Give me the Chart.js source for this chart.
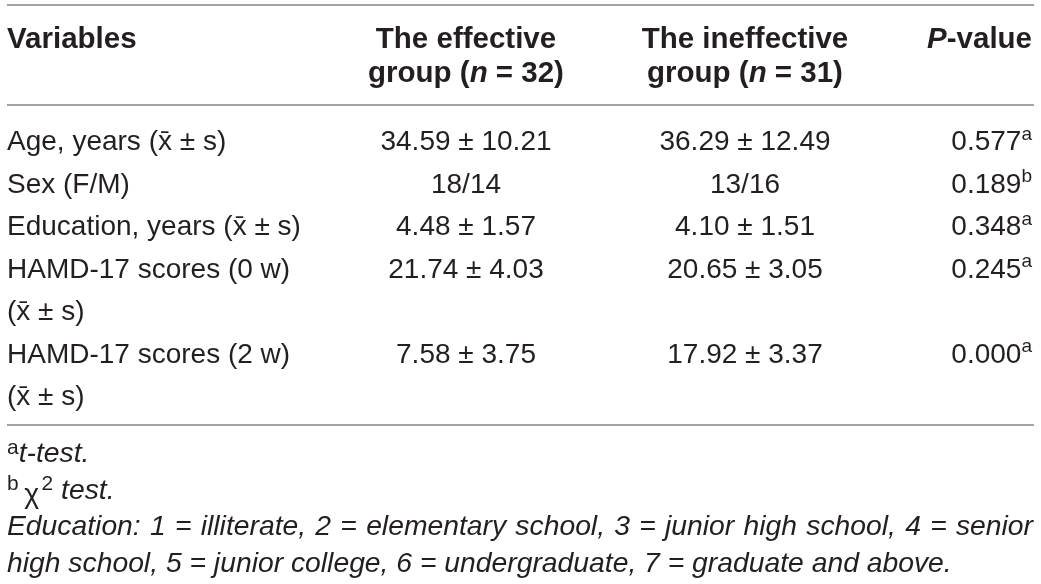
<!DOCTYPE html>
<html>
<head>
<meta charset="utf-8">
<script src="https://cdn.jsdelivr.net/npm/chart.js@4"></script>
<style>
  html, body { margin: 0; padding: 0; background: #fff; }
  #wrap { width: 1041px; height: 584px; }
</style>
</head>
<body>
<div id="wrap"><canvas id="table-chart" width="1041" height="584"></canvas></div>
<script>
// Data tabulky
const headers = ['Variables', 'The effective\ngroup (*n* = 32)', 'The ineffective\ngroup (*n* = 31)', '*P*-value'];
const variables = ['Age, years (x\u0304 ± s)', 'Sex (F/M)', 'Education, years (x\u0304 ± s)',
    'HAMD-17 scores (0 w)\n(x\u0304 ± s)', 'HAMD-17 scores (2 w)\n(x\u0304 ± s)'];
const effective = ['34.59 ± 10.21', '18/14', '4.48 ± 1.57', '21.74 ± 4.03', '7.58 ± 3.75'];
const ineffective = ['36.29 ± 12.49', '13/16', '4.10 ± 1.51', '20.65 ± 3.05', '17.92 ± 3.37'];
const pValues = ['0.577', '0.189', '0.348', '0.245', '0.000'];
const pTests = ['a', 'b', 'a', 'a', 'a'];
const footnotes = [
    '^{a}*t-test.*',
    '^{b}\u2009_{χ}\u200a^{2} *test.*',
    '*Education: 1 = illiterate, 2 = elementary school, 3 = junior high school, 4 = senior*',
    '*high school, 5 = junior college, 6 = undergraduate, 7 = graduate and above.*'
];

// Rozložení (v jednotkách os)
const colX = [7, 466, 745, 1032];
const colAlign = ['left', 'center', 'center', 'right'];
const headerTop = 48, headerStep = 34;
const bodyTop = 150, bodyStep = 42.5;
const footTop = 462, footStep = 36.5;
const rules = [5, 105, 425];
const ruleLeft = 7, ruleRight = 1034;

const FONT = '"Liberation Sans", Arial, sans-serif';
const TEXT_COLOR = '#231f20';

// Rozparsování jednoduchého formátu: *kurzíva*, ^{horní index}, _{posunuto dolů}
function parseRich(str) {
    const segs = [];
    let italic = false, buf = '', i = 0;
    const flush = (kind) => { if (buf) segs.push({ text: buf, italic, kind }); buf = ''; };
    while (i < str.length) {
        const ch = str[i];
        if (ch === '*') { flush('n'); italic = !italic; i++; continue; }
        if ((ch === '^' || ch === '_') && str[i + 1] === '{') {
            flush('n');
            const end = str.indexOf('}', i);
            buf = str.slice(i + 2, end);
            flush(ch === '^' ? 'sup' : 'low');
            i = end + 1;
            continue;
        }
        buf += ch;
        i++;
    }
    flush('n');
    return segs;
}

function segFont(seg, spec) {
    const size = seg.kind === 'sup' ? spec.size * spec.supScale : spec.size;
    return (seg.italic ? 'italic ' : '') + spec.weight + ' ' + size + 'px ' + FONT;
}

function drawRich(ctx, str, x, y, align, spec, justifyWidth) {
    const segs = parseRich(str);
    let total = 0, spaces = 0;
    segs.forEach(seg => {
        ctx.font = segFont(seg, spec);
        seg.w = ctx.measureText(seg.text).width;
        total += seg.w;
        if (seg.kind === 'n') spaces += (seg.text.match(/ /g) || []).length;
    });
    let extra = 0;
    if (justifyWidth && spaces > 0) {
        extra = (justifyWidth - total) / spaces;
        total = justifyWidth;
    }
    let cx = x;
    if (align === 'center') cx = x - total / 2;
    else if (align === 'right') cx = x - total;
    ctx.fillStyle = TEXT_COLOR;
    ctx.textBaseline = 'alphabetic';
    ctx.textAlign = 'left';
    segs.forEach(seg => {
        ctx.font = segFont(seg, spec);
        let yy = y;
        if (seg.kind === 'sup') yy = y - spec.size * spec.supRaise;
        if (seg.kind === 'low') yy = y + spec.size * 0.16;
        if (extra !== 0 && seg.kind === 'n') {
            const words = seg.text.split(' ');
            words.forEach((wd, k) => {
                ctx.fillText(wd, cx, yy);
                cx += ctx.measureText(wd).width;
                if (k < words.length - 1) cx += ctx.measureText(' ').width + extra;
            });
        } else {
            ctx.fillText(seg.text, cx, yy);
            cx += seg.w;
        }
    });
}

// Sestavení datasetů: každá buňka je bod, text se kreslí na jeho pozici
const datasets = [];
const headSpec = { size: 29.5, weight: 'bold', supScale: 0.66, supRaise: 0.38 };
const bodySpec = { size: 28, weight: 'normal', supScale: 0.68, supRaise: 0.36 };
const footSpec = { size: 28.3, weight: 'normal', supScale: 0.74, supRaise: 0.3 };

headers.forEach((h, c) => {
    const lines = h.split('\n');
    datasets.push({
        label: 'header-' + c,
        texts: lines,
        align: colAlign[c],
        spec: headSpec,
        data: lines.map((_, k) => ({ x: colX[c], y: headerTop + k * headerStep }))
    });
});

const bodyCols = [
    variables,
    effective,
    ineffective,
    pValues.map((p, i) => p + '^{' + pTests[i] + '}')
];
bodyCols.forEach((col, c) => {
    const texts = [], pts = [];
    let lineIdx = 0;
    col.forEach((cell, r) => {
        const startLine = lineIdx;
        const lines = cell.split('\n');
        const rowLines = Math.max(...bodyCols.map(cc => cc[r].split('\n').length));
        lines.forEach((ln, k) => {
            texts.push(ln);
            pts.push({ x: colX[c], y: bodyTop + (startLine + k) * bodyStep });
        });
        lineIdx += rowLines;
    });
    datasets.push({ label: 'col-' + c, texts, align: colAlign[c], spec: bodySpec, data: pts });
});

datasets.push({
    label: 'footnotes',
    texts: footnotes,
    align: 'left',
    spec: footSpec,
    justify: [false, false, true, false],
    data: footnotes.map((_, k) => ({ x: colX[0], y: footTop + k * footStep }))
});

datasets.forEach(ds => { ds.pointRadius = 0; ds.pointHoverRadius = 0; });

const tablePlugin = {
    id: 'tablePlugin',
    beforeDatasetsDraw(chart) {
        const ctx = chart.ctx;
        const xs = chart.scales.x, ys = chart.scales.y;
        ctx.save();
        ctx.strokeStyle = '#a3a3a3';
        ctx.lineWidth = 2;
        rules.forEach(r => {
            const y = Math.round(ys.getPixelForValue(r));
            ctx.beginPath();
            ctx.moveTo(xs.getPixelForValue(ruleLeft), y);
            ctx.lineTo(xs.getPixelForValue(ruleRight), y);
            ctx.stroke();
        });
        ctx.restore();
    },
    afterDatasetsDraw(chart) {
        const ctx = chart.ctx;
        const xs = chart.scales.x;
        const justW = xs.getPixelForValue(ruleRight - 1) - xs.getPixelForValue(colX[0]);
        ctx.save();
        chart.data.datasets.forEach((ds, i) => {
            const meta = chart.getDatasetMeta(i);
            meta.data.forEach((pt, j) => {
                const jw = ds.justify && ds.justify[j] ? justW : 0;
                drawRich(ctx, ds.texts[j], pt.x, pt.y, ds.align, ds.spec, jw);
            });
        });
        ctx.restore();
    }
};

const canvas = document.getElementById('table-chart');
new Chart(canvas.getContext('2d'), {
    type: 'scatter',
    data: { datasets },
    options: {
        responsive: false,
        animation: false,
        events: [],
        layout: { padding: 0 },
        plugins: { legend: { display: false }, tooltip: { enabled: false } },
        scales: {
            x: { type: 'linear', min: 0, max: 1041, display: false },
            y: { type: 'linear', min: 0, max: 584, reverse: true, display: false }
        }
    },
    plugins: [tablePlugin]
});
</script>
</body>
</html>
